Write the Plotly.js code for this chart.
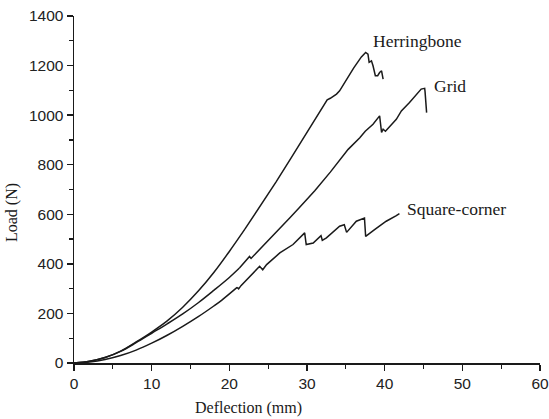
<!DOCTYPE html>
<html>
<head>
<meta charset="utf-8">
<script src="https://cdn.plot.ly/plotly-3.0.1.min.js"></script>
<style>html,body{margin:0;padding:0;background:#fff;}#chart{width:549px;height:419px;}</style>
</head>
<body>
<div id="chart"></div>
<script>
// Deflection (mm) and Load (N)
const herringboneX = [0,2,4,6,8,10,12,14,16,18,20,22,24,26,28,30,32,32.6,33.0,33.4,33.8,34.2,35,36,37,37.55,37.85,38.0,38.3,38.5,38.8,39.1,39.35,39.6,39.8];
const herringboneY = [0,7,22,48,85,125,170,225,290,365,450,540,633,730,830,930,1032,1062,1068,1075,1085,1098,1140,1190,1235,1253,1246,1213,1219,1199,1159,1159,1172,1179,1145];

const gridX = [0,2,4,6,8,10,12,14,16,18,20,21.3,22.4,22.6,22.8,23.2,25.2,27.8,29,31,33,35.3,36.8,37.5,38.5,39.1,39.35,39.6,39.8,40.1,41.5,42.15,42.8,43.2,44.7,45.15,45.2,45.4];
const gridY = [0,7,22,47,82,120,158,198,243,293,345,383,425,430,422,435,498,586,626,695,770,862,909,935,963,990,997,930,943,935,983,1017,1037,1051,1105,1108,1095,1010];

const squareX = [0,2,4,6,8,10,12,14,16,18,19,21,21.2,21.5,23.9,24.3,24.8,26.5,27.8,28.2,29.7,29.9,30.8,31.6,31.8,31.97,32.5,34.2,34.8,35.1,36.35,37.4,37.55,38.7,40.2,41.5,41.9];
const squareY = [0,4,14,30,52,80,112,148,187,230,253,305,299,312,390,376,397,444,471,478,525,478,484,509,514,495,505,552,558,527,572,585,511,538,572,595,603];

const seriesNames = ["Herringbone","Grid","Square-corner"];
const labelX = [38.3, 46.05, 42.6];
const labelY = [1299, 1117, 623];

const allX = [herringboneX, gridX, squareX];
const allY = [herringboneY, gridY, squareY];
const smoothUpTo = 20; // smooth (spline) part of each curve, jagged part drawn straight

const lineStyle = {color:'#1a1a1a', width:1.5};
const traces = [];
allX.forEach((xs,i)=>{
  const ys = allY[i];
  const k = xs.findIndex(v=>v>smoothUpTo);
  traces.push({x:xs.slice(0,k+1), y:ys.slice(0,k+1), mode:'lines', line:Object.assign({shape:'spline', smoothing:1}, lineStyle), name:seriesNames[i]});
  traces.push({x:xs.slice(k), y:ys.slice(k), mode:'lines', line:lineStyle, name:seriesNames[i]});
});

const serif = 'Liberation Serif, Times New Roman, serif';
const W=549,H=419,L=74,R=9,T=16,B=56;
const pw=W-L-R, ph=H-T-B;
const annotations = seriesNames.map((n,i)=>({
  x:labelX[i], y:labelY[i], xref:'x', yref:'y', text:n, showarrow:false,
  xanchor:'left', yanchor:'middle', font:{family:serif, size:17.5, color:'#1a1a1a'}
}));
annotations.push({xref:'paper', yref:'paper', x:(248-L)/pw, y:1-(408-T)/ph, xanchor:'center', yanchor:'middle',
  text:'Deflection (mm)', showarrow:false, font:{family:serif, size:16, color:'#1a1a1a'}});
annotations.push({xref:'paper', yref:'paper', x:(12-L)/pw, y:1-(213-T)/ph, xanchor:'center', yanchor:'middle',
  text:'Load (N)', showarrow:false, textangle:-90, font:{family:serif, size:16, color:'#1a1a1a'}});

const tickFont = {family:'Liberation Sans, Arial, sans-serif', size:15.5, color:'#222'};
const axisCommon = {showgrid:false, zeroline:false, showline:true, linecolor:'#1a1a1a', linewidth:1.5,
  ticks:'outside', ticklen:6, tickwidth:1.3, tickcolor:'#1a1a1a', tickfont:tickFont};
const layout = {
  width:W, height:H,
  margin:{l:L, r:R, t:T, b:B},
  paper_bgcolor:'#fff', plot_bgcolor:'#fff',
  showlegend:false,
  xaxis:Object.assign({range:[0,60], dtick:10, tick0:0,
    minor:{dtick:5, ticks:'outside', ticklen:4, tickwidth:1.2, tickcolor:'#1a1a1a', showgrid:false}}, axisCommon),
  yaxis:Object.assign({range:[0,1400], dtick:200, tick0:0,
    minor:{dtick:100, ticks:'outside', ticklen:4, tickwidth:1.2, tickcolor:'#1a1a1a', showgrid:false}}, axisCommon),
  annotations:annotations
};
Plotly.newPlot('chart', traces, layout, {staticPlot:true, displayModeBar:false});
</script>
</body>
</html>
